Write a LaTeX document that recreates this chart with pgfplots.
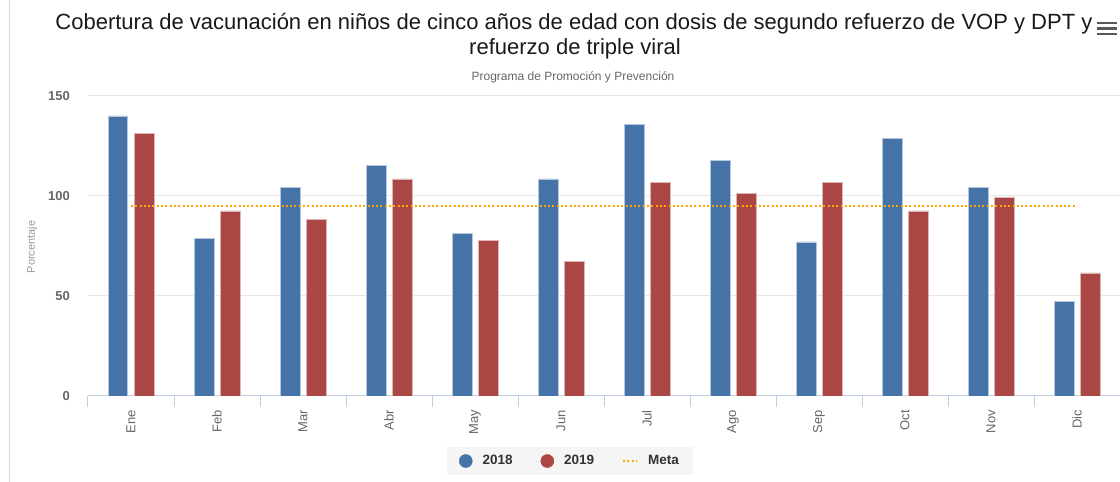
\documentclass[border=0pt]{standalone}
\usepackage{pgfplots}
\pgfplotsset{compat=1.18}
\usepackage{fontspec}
\setmainfont{Liberation Sans}
\definecolor{c18}{HTML}{4572A7}
\definecolor{c19}{HTML}{AA4643}
\definecolor{metac}{HTML}{FFA500}
\definecolor{gridc}{HTML}{E6E6E6}
\definecolor{axisc}{HTML}{C0D0E0}
\definecolor{lab}{HTML}{666666}
\begin{document}
\begin{tikzpicture}[x=1pt,y=1pt]
\useasboundingbox (0,0) rectangle (1120,482);
\draw[axisc!80, line width=1pt] (9,0) -- (9,482);
\node[font=\fontsize{22}{26}\selectfont, text=black!90, anchor=base] at (574,452) {Cobertura de vacunación en niños de cinco años de edad con dosis de segundo refuerzo de VOP y DPT y};
\node[font=\fontsize{22}{26}\selectfont, text=black!90, anchor=base] at (575,427) {refuerzo de triple viral};
\node[font=\fontsize{12}{14}\selectfont, text=lab, anchor=base] at (573,401) {Programa de Promoción y Prevención};
\foreach \yy in {448,453.5,459} \draw[black!65, line width=2.6pt] (1097,\yy) -- (1117,\yy);
\node[rotate=90, font=\fontsize{11}{12}\selectfont, text=black!40] at (32,235) {Porcentaje};
\begin{axis}[
  at={(88pt,86pt)}, anchor=south west,
  scale only axis, width=1032pt, height=300pt,
  xmin=-0.5, xmax=11.5, ymin=0, ymax=150,
  ytick={0,50,100,150},
  ymajorgrids, grid style={gridc, line width=1pt},
  axis x line*=bottom, axis y line*=left,
  y axis line style={draw=none},
  x axis line style={axisc, line width=1pt, -},
  ytick style={draw=none},
  xtick={-0.5,0.5,...,11.5},
  xticklabels={},
  xtick style={axisc, line width=1pt},
  tick align=outside,
  major tick length=11pt,
  extra x ticks={0,1,2,3,4,5,6,7,8,9,10,11},
  extra x tick labels={Ene,Feb,Mar,Abr,May,Jun,Jul,Ago,Sep,Oct,Nov,Dic},
  extra x tick style={major tick length=0pt, grid=none,
     xticklabel style={rotate=90, anchor=east, inner sep=0pt, xshift=-14pt,
       font=\fontsize{13}{14}\selectfont, text=lab}},
  yticklabel style={font=\fontsize{13}{14}\selectfont\bfseries, text=lab, inner sep=0pt, xshift=-7pt},
  /pgf/number format/assume math mode=true,
  legend columns=3,
  legend style={at={(0.467,-0.2167)}, anchor=center, fill=black!4, draw=none,
     font=\fontsize{13.5}{15}\selectfont\bfseries, text=black!80,
     inner xsep=12pt, inner ysep=7pt,
     /tikz/every odd column/.append style={column sep=8pt},
     /tikz/every even column/.append style={column sep=26pt}},
]
\addplot[ybar, bar width=19.5pt, bar shift=-13pt, fill=c18, draw=white!60!c18, line width=0.5pt,
  legend image code/.code={\fill[c18] (5pt,0pt) circle (6.5pt);}]
  coordinates {(0,140) (1,78.8) (2,104.2) (3,115.2) (4,81.3) (5,108.5) (6,135.8) (7,117.8) (8,77) (9,128.8) (10,104.2) (11,47.3)};
\addlegendentry{2018}
\addplot[ybar, bar width=19.5pt, bar shift=13pt, fill=c19, draw=white!60!c19, line width=0.5pt,
  legend image code/.code={\fill[c19] (5pt,0pt) circle (6.5pt);}]
  coordinates {(0,131.3) (1,92.5) (2,88.3) (3,108.5) (4,77.7) (5,67.2) (6,106.8) (7,101.2) (8,106.8) (9,92.5) (10,99.3) (11,61.5)};
\addlegendentry{2019}
\addplot[metac, line width=2pt, dash pattern=on 2pt off 2.3pt, mark=none,
  legend image code/.code={\draw[metac, line width=2pt, dash pattern=on 2pt off 2.3pt] (0pt,0pt) -- (14pt,0pt);}]
  coordinates {(0,95) (1,95) (2,95) (3,95) (4,95) (5,95) (6,95) (7,95) (8,95) (9,95) (10,95) (11,95)};
\addlegendentry{Meta}
\end{axis}
\end{tikzpicture}
\end{document}
